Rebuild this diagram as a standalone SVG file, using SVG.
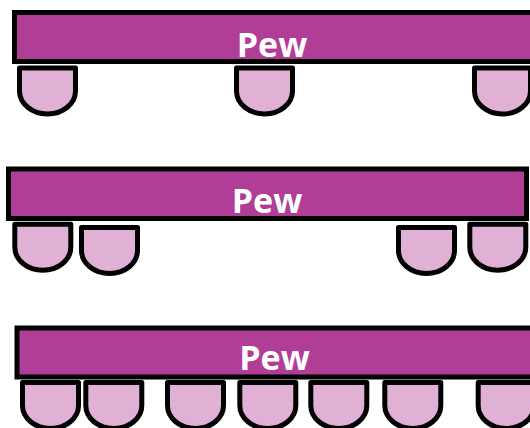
<svg xmlns="http://www.w3.org/2000/svg" xmlns:xlink="http://www.w3.org/1999/xlink" width="530" height="428" viewBox="0 0 530 428">
  <style>
    .pew { fill: #B03D96; stroke: #000; stroke-width: 5; }
    .seat { fill: #E0B0D5; stroke: #000; stroke-width: 5; stroke-linejoin: round; }
    .label { font-family: "Open Sans", "Liberation Sans", sans-serif; font-weight: 700; font-size: 34px; fill: #fff; text-anchor: middle; }
  </style>
  <defs>
    <path id="seatShape" class="seat" d="M0,0 H56 V23 A28,23 0 0 1 0,23 Z"/>
  </defs>
  <rect width="530" height="428" fill="#fff"/>

  <g id="pew1">
    <rect class="pew" x="14.5" y="12.5" width="530" height="49"/>
    <text class="label" x="272" y="56.5">Pew</text>
  </g>
  <g id="pew1-seat1"><use xlink:href="#seatShape" x="19.5" y="68"/></g>
  <g id="pew1-seat2"><use xlink:href="#seatShape" x="236.5" y="68"/></g>
  <g id="pew1-seat3"><use xlink:href="#seatShape" x="474.5" y="68"/></g>

  <g id="pew2">
    <rect class="pew" x="8.5" y="169" width="518" height="49.5"/>
    <text class="label" x="267" y="212.5">Pew</text>
  </g>
  <g id="pew2-seat1"><use xlink:href="#seatShape" x="14.8" y="224.2"/></g>
  <g id="pew2-seat2"><use xlink:href="#seatShape" x="81.5" y="227.5"/></g>
  <g id="pew2-seat3"><use xlink:href="#seatShape" x="398.5" y="227.5"/></g>
  <g id="pew2-seat4"><use xlink:href="#seatShape" x="469.8" y="224.2"/></g>

  <g id="pew3">
    <rect class="pew" x="17" y="328" width="530" height="49"/>
    <text class="label" x="274.5" y="370">Pew</text>
  </g>
  <g id="pew3-seat1"><use xlink:href="#seatShape" x="22.5" y="382.5"/></g>
  <g id="pew3-seat2"><use xlink:href="#seatShape" x="85.8" y="382.5"/></g>
  <g id="pew3-seat3"><use xlink:href="#seatShape" x="167.5" y="382.5"/></g>
  <g id="pew3-seat4"><use xlink:href="#seatShape" x="239.8" y="382.5"/></g>
  <g id="pew3-seat5"><use xlink:href="#seatShape" x="310.8" y="382.5"/></g>
  <g id="pew3-seat6"><use xlink:href="#seatShape" x="384.8" y="382.5"/></g>
  <g id="pew3-seat7"><use xlink:href="#seatShape" x="478.2" y="382.5"/></g>

  <g id="connectors"/>
</svg>
